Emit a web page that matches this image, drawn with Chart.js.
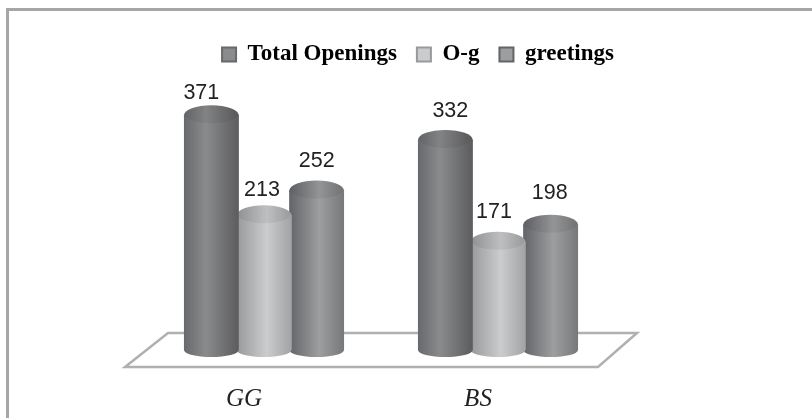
<!DOCTYPE html>
<html>
<head>
<meta charset="utf-8">
<script src="https://cdn.jsdelivr.net/npm/chart.js@4"></script>
<style>
    html, body { margin: 0; padding: 0; background: #fff; overflow: hidden; }
    #marco { position: absolute; left: 6px; top: 8px; width: 806px; height: 410px; box-sizing: border-box; border-left: 3px solid #a6a6a6; border-top: 3px solid #a6a6a6; }
    #grafico { position: absolute; left: 0; top: 0; }
</style>
</head>
<body>
<div id="marco"></div>
<canvas id="grafico" width="812" height="418"></canvas>
<script>
// Datos del gráfico
const categorias = ['GG', 'BS'];
const seriesNombres = ['Total Openings', 'O-g', 'greetings'];
const totalOpenings = [371, 332];
const og = [213, 171];
const greetings = [252, 198];

// Tonos de cada cilindro: izquierda, brillo, derecha, posición del brillo
const tonos = [
    ['#68696c', '#8a8b8d', '#5c5c5f', 0.4],
    ['#98999b', '#cbccce', '#a2a3a5', 0.55],
    ['#636467', '#9d9ea0', '#77787a', 0.55]
];

// Ajuste de cada valor respecto a su columna [dx, dy], por serie y categoría
const ajusteEtiquetas = [
    [[-10, -22], [5, -29]],
    [[-2, -25], [-4, -30]],
    [[0, -29], [-1, -32]]
];

function degradado(chart, el, tono) {
    const g = chart.ctx.createLinearGradient(el.x - el.width / 2, 0, el.x + el.width / 2, 0);
    g.addColorStop(0, tono[0]);
    g.addColorStop(tono[3], tono[1]);
    g.addColorStop(1, tono[2]);
    return g;
}

// Suelo en perspectiva bajo las columnas
const suelo = {
    id: 'suelo',
    beforeDatasetsDraw(chart) {
        const a = chart.chartArea, c = chart.ctx;
        c.save();
        c.beginPath();
        c.moveTo(a.left - 22, a.bottom + 17);
        c.lineTo(a.left + 21, a.bottom - 17);
        c.lineTo(a.right + 22, a.bottom - 17);
        c.lineTo(a.right - 17, a.bottom + 17);
        c.closePath();
        c.strokeStyle = '#b0b0b0';
        c.lineWidth = 2.5;
        c.stroke();
        c.restore();
    }
};

// Pinta cada barra como cilindro: cuerpo con degradado, base redondeada y tapa
const cilindros = {
    id: 'cilindros',
    afterDatasetDraw(chart, args) {
        const c = chart.ctx;
        const tono = tonos[args.index];
        args.meta.data.forEach(el => {
            const rx = el.width / 2;
            c.save();
            c.fillStyle = degradado(chart, el, tono);
            c.fillRect(el.x - rx, el.y, el.width, el.base - el.y);
            c.beginPath();
            c.ellipse(el.x, el.base, rx, 7, 0, 0, Math.PI);
            c.fill();
            c.beginPath();
            c.ellipse(el.x, el.y, rx, 10, 0, 0, Math.PI * 2);
            c.fill();
            // sombra suave de la tapa
            c.globalAlpha = 0.07;
            c.fillStyle = '#222';
            c.beginPath();
            c.ellipse(el.x, el.y - 1, rx - 1, 9, 0, 0, Math.PI * 2);
            c.fill();
            c.restore();
        });
    }
};

// Valor encima de cada columna
const etiquetas = {
    id: 'etiquetas',
    afterDatasetsDraw(chart) {
        const c = chart.ctx;
        c.save();
        c.font = '21.5px "Liberation Sans"';
        c.fillStyle = '#222';
        c.textAlign = 'center';
        c.textBaseline = 'middle';
        chart.data.datasets.forEach((ds, i) => {
            chart.getDatasetMeta(i).data.forEach((el, j) => {
                const aj = ajusteEtiquetas[i][j];
                c.fillText(ds.data[j], el.x + aj[0], el.y + aj[1]);
            });
        });
        c.restore();
    }
};

// La leyenda va centrada algo a la derecha del área de trazado
const moverLeyenda = {
    id: 'moverLeyenda',
    afterLayout(chart) {
        chart.legend.left += 37;
        chart.legend.right += 37;
    }
};

function crearDataset(nombre, valores, i) {
    return {
        label: nombre,
        data: valores,
        backgroundColor: tonos[i][1],
        categoryPercentage: 0.675,
        barPercentage: 1.04
    };
}

new Chart(document.getElementById('grafico').getContext('2d'), {
    type: 'bar',
    data: {
        labels: categorias,
        datasets: [
            crearDataset(seriesNombres[0], totalOpenings, 0),
            crearDataset(seriesNombres[1], og, 1),
            crearDataset(seriesNombres[2], greetings, 2)
        ]
    },
    options: {
        responsive: false,
        animation: false,
        layout: { padding: { left: 147, right: 197, top: 23, bottom: 8 } },
        plugins: {
            tooltip: { enabled: false },
            legend: {
                position: 'top',
                labels: {
                    boxWidth: 14,
                    boxHeight: 14,
                    padding: 20,
                    color: '#222',
                    font: { family: '"Liberation Serif"', size: 23, weight: 'bold' },
                    generateLabels: chart => chart.data.datasets.map((ds, i) => ({
                        text: ds.label,
                        fillStyle: tonos[i][1],
                        strokeStyle: tonos[i][0],
                        lineWidth: 2,
                        datasetIndex: i
                    }))
                }
            }
        },
        scales: {
            x: {
                grid: { display: false },
                border: { display: false },
                afterFit: scale => { scale.height = 60; },
                ticks: {
                    color: '#222',
                    padding: 26,
                    labelOffset: -20,
                    font: { family: '"Liberation Serif"', size: 25, style: 'italic' }
                }
            },
            y: {
                display: false,
                min: 0,
                max: 433
            }
        }
    },
    plugins: [moverLeyenda, suelo, cilindros, etiquetas]
});
</script>
</body>
</html>
